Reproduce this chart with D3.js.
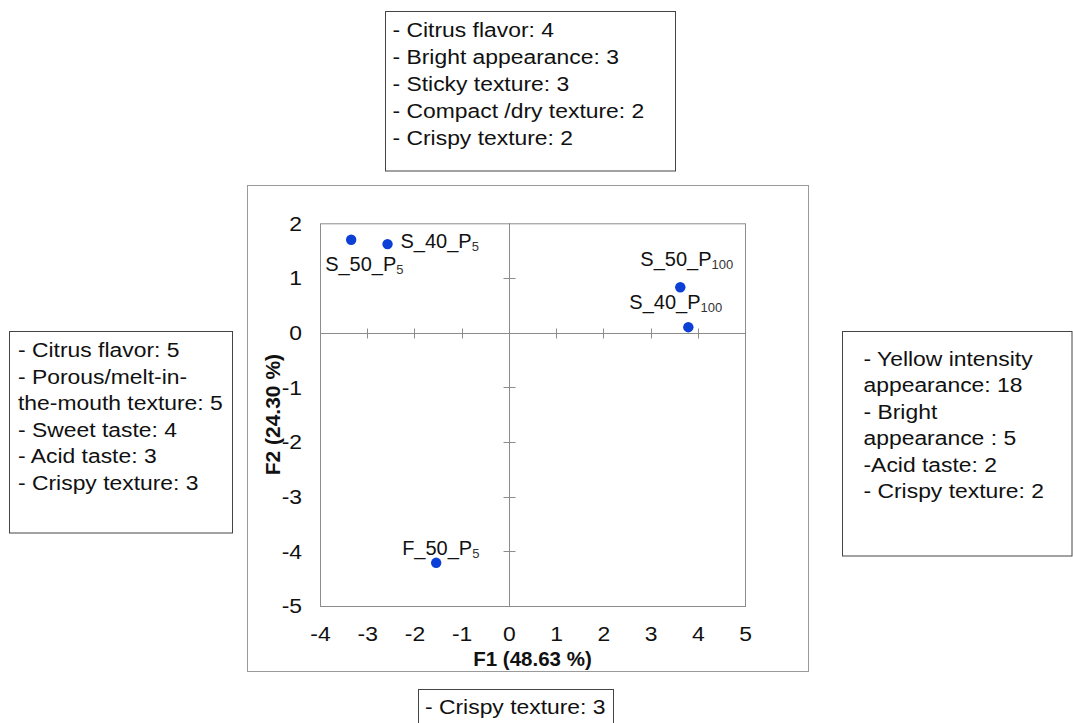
<!DOCTYPE html>
<html>
<head>
<meta charset="utf-8">
<script src="https://cdn.jsdelivr.net/npm/d3@7/dist/d3.min.js"></script>
<style>
  html, body { margin: 0; padding: 0; background: #fff; }
  svg { display: block; font-family: "Liberation Sans", Arial, sans-serif; }
</style>
</head>
<body>
<svg id="chart" width="1073" height="723"></svg>
<script>
// Sample scores on the first two factors
const sampleBase = ["S_50_P", "S_40_P", "S_50_P", "S_40_P", "F_50_P"];
const sampleSub  = ["5", "5", "100", "100", "5"];
const f1Scores   = [-3.34, -2.57, 3.63, 3.80, -1.54];
const f2Scores   = [1.70, 1.62, 0.83, 0.10, -4.21];

// Axis ticks
const xTickValues = [-4, -3, -2, -1, 0, 1, 2, 3, 4, 5];
const yTickValues = [-5, -4, -3, -2, -1, 0, 1, 2];
const xAxisTitle = "F1 (48.63 %)";
const yAxisTitle = "F2 (24.30 %)";

// Descriptor notes placed around the map
const topNotes = ["- Citrus flavor: 4", "- Bright appearance: 3", "- Sticky texture: 3",
                  "- Compact /dry texture: 2", "- Crispy texture: 2"];
const leftNotes = ["- Citrus flavor: 5", "- Porous/melt-in-", "the-mouth texture: 5",
                   "- Sweet taste: 4", "- Acid taste: 3", "- Crispy texture: 3"];
const rightNotes = ["- Yellow intensity", "appearance: 18", "- Bright", "appearance : 5",
                    "-Acid taste: 2", "- Crispy texture: 2"];
const bottomNotes = ["- Crispy texture: 3"];

// Layout
const plot = { left: 320, right: 745, top: 223.3, bottom: 606 };
const frame = { x: 247.5, y: 185.5, w: 561, h: 486 };
const labelOffsets = [[-26, 31], [13, 4], [-40, -21], [-59, -18], [-34, -8]];
const textStretch = 1.09;
const noteBoxes = [
  { lines: topNotes,    x: 385.5, y: 11.5,  w: 290, h: 159.5, tx: 392.5, ty: 36.7, lh: 27.1 },
  { lines: leftNotes,   x: 9.5,   y: 331.5, w: 223, h: 201.5, tx: 18,    ty: 357,  lh: 26.6 },
  { lines: rightNotes,  x: 842.5, y: 331.5, w: 229.5, h: 224.5, tx: 863.5, ty: 366,  lh: 26.4 },
  { lines: bottomNotes, x: 418.5, y: 689.5, w: 195, h: 60,    tx: 425,   ty: 714,  lh: 27 }
];

const svg = d3.select("#chart");

const x = d3.scaleLinear().domain([-4, 5]).range([plot.left, plot.right]);
const y = d3.scaleLinear().domain([-5, 2]).range([plot.bottom, plot.top]);

// Outer frame around the map
svg.append("rect")
  .attr("x", frame.x).attr("y", frame.y).attr("width", frame.w).attr("height", frame.h)
  .attr("fill", "none").attr("stroke", "#9a9a9a").attr("stroke-width", 1);

// Plot border
svg.append("rect")
  .attr("x", plot.left + 0.5).attr("y", plot.top + 0.5)
  .attr("width", plot.right - plot.left).attr("height", plot.bottom - plot.top)
  .attr("fill", "none").attr("stroke", "#8c8c8c").attr("stroke-width", 1);

// Zero lines
const x0 = Math.round(x(0)) + 0.5, y0 = Math.round(y(0)) + 0.5;
svg.append("line").attr("x1", x0).attr("x2", x0).attr("y1", plot.top).attr("y2", plot.bottom)
  .attr("stroke", "#8c8c8c");
svg.append("line").attr("x1", plot.left).attr("x2", plot.right).attr("y1", y0).attr("y2", y0)
  .attr("stroke", "#8c8c8c");

// Cross ticks on the zero lines
const innerX = xTickValues.filter(v => v > -4 && v < 5 && v !== 0);
const innerY = yTickValues.filter(v => v > -5 && v < 2 && v !== 0);
svg.selectAll("line.xt").data(innerX).join("line").attr("class", "xt")
  .attr("x1", d => Math.round(x(d)) + 0.5).attr("x2", d => Math.round(x(d)) + 0.5)
  .attr("y1", y0 - 5).attr("y2", y0 + 5).attr("stroke", "#8c8c8c");
svg.selectAll("line.yt").data(innerY).join("line").attr("class", "yt")
  .attr("y1", d => Math.round(y(d)) + 0.5).attr("y2", d => Math.round(y(d)) + 0.5)
  .attr("x1", x0 - 6).attr("x2", x0 + 6).attr("stroke", "#8c8c8c");

// Tick labels
const minusFmt = d => d < 0 ? "-" + Math.abs(d) : String(d);
const xAxis = svg.append("g").attr("transform", `translate(0,${plot.bottom})`)
  .call(d3.axisBottom(x).tickValues(xTickValues).tickSize(0).tickPadding(20.5).tickFormat(minusFmt));
const yAxis = svg.append("g").attr("transform", `translate(${plot.left},0)`)
  .call(d3.axisLeft(y).tickValues(yTickValues).tickSize(0).tickPadding(18).tickFormat(minusFmt));
[xAxis, yAxis].forEach(g => {
  g.select(".domain").remove();
  g.selectAll("text").attr("font-size", 21).attr("fill", "#111")
    .attr("font-family", "'Liberation Sans', Arial, sans-serif");
});
xAxis.selectAll("text").attr("transform", `scale(${textStretch},1)`);
yAxis.selectAll("text").attr("x", 0).attr("transform", `translate(-18,0) scale(${textStretch},1)`);

// Axis titles
svg.append("text").attr("x", (plot.left + plot.right) / 2).attr("y", 666)
  .attr("text-anchor", "middle").attr("font-size", 20.5).attr("font-weight", "bold")
  .attr("fill", "#111").text(xAxisTitle);
svg.append("text")
  .attr("transform", `translate(280,${(plot.top + plot.bottom) / 2}) rotate(-90)`)
  .attr("text-anchor", "middle").attr("font-size", 21).attr("font-weight", "bold")
  .attr("fill", "#111").text(yAxisTitle);

// Sample points
const samples = f1Scores.map((v, i) => ({ f1: v, f2: f2Scores[i], base: sampleBase[i], sub: sampleSub[i], off: labelOffsets[i] }));
svg.selectAll("circle.pt").data(samples).join("circle").attr("class", "pt")
  .attr("cx", d => x(d.f1)).attr("cy", d => y(d.f2)).attr("r", 5.2)
  .attr("fill", "#0b3fd6");

// Sample labels with subscripts
const labels = svg.selectAll("text.lbl").data(samples).join("text").attr("class", "lbl")
  .attr("x", d => x(d.f1) + d.off[0]).attr("y", d => y(d.f2) + d.off[1])
  .attr("font-size", 20).attr("fill", "#111");
labels.append("tspan").text(d => d.base);
labels.append("tspan").attr("font-size", 13).attr("dy", 3).attr("fill", "#333").text(d => d.sub);

// Note boxes
noteBoxes.forEach(b => {
  svg.append("rect").attr("x", b.x).attr("y", b.y).attr("width", b.w).attr("height", b.h)
    .attr("fill", "#fff").attr("stroke", "#444").attr("stroke-width", 1);
  svg.append("g").selectAll("text").data(b.lines).join("text")
    .attr("transform", (d, i) => `translate(${b.tx},${b.ty + i * b.lh}) scale(${textStretch},1)`)
    .attr("font-size", 21).attr("fill", "#111").text(d => d);
});
</script>
</body>
</html>
